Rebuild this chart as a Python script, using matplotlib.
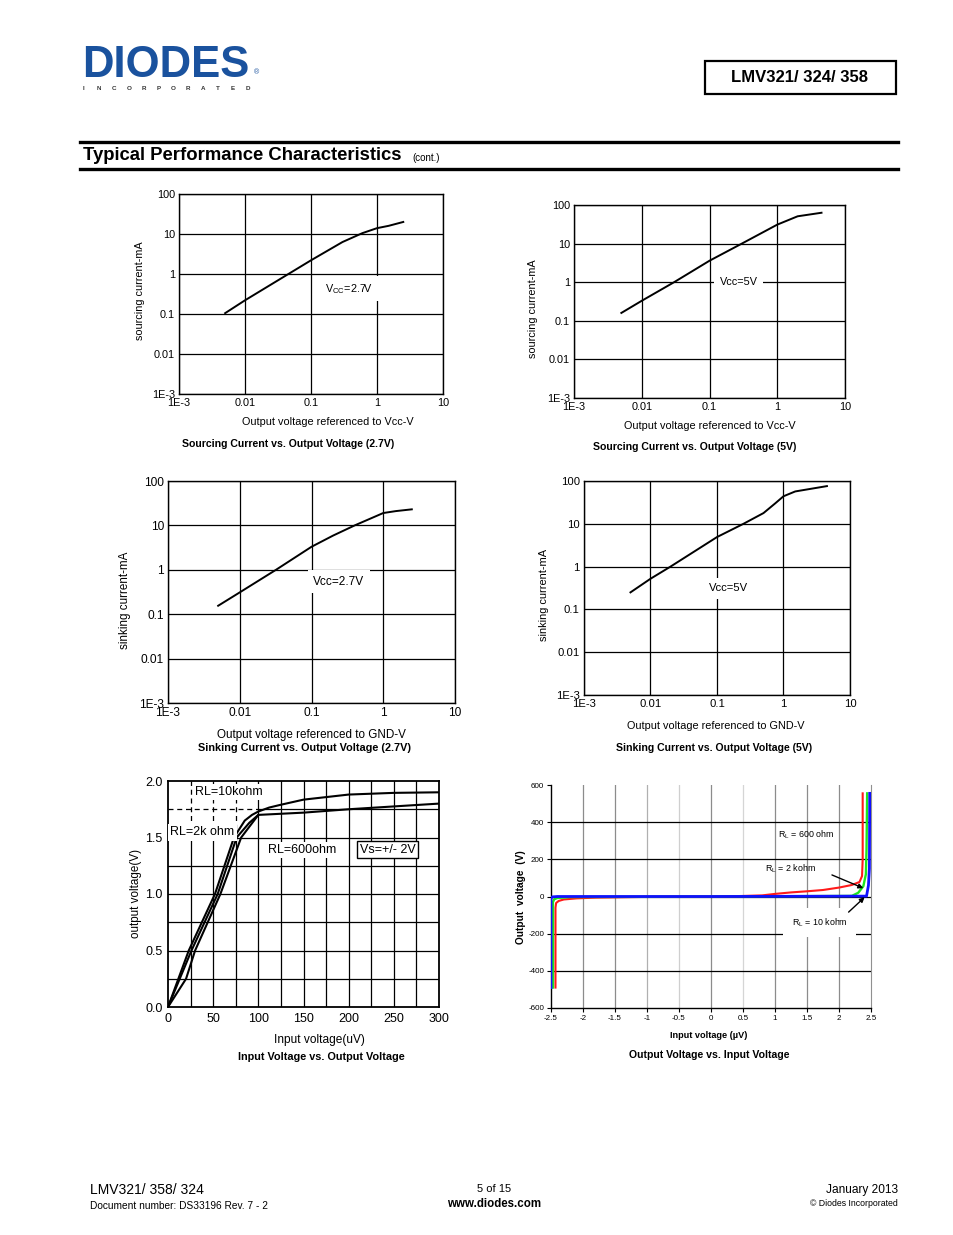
import numpy as np
import matplotlib
matplotlib.use("Agg")
import matplotlib.pyplot as plt
from matplotlib.patches import Rectangle

plt.rcParams['font.family'] = ['Liberation Sans', 'DejaVu Sans']
plt.rcParams['mathtext.fontset'] = 'custom'
plt.rcParams['mathtext.rm'] = 'Liberation Sans'
plt.rcParams['mathtext.it'] = 'Liberation Sans:italic'
plt.rcParams['mathtext.bf'] = 'Liberation Sans:bold'
plt.rcParams['axes.unicode_minus'] = False

W, H = 954, 1235

# ---- data ----
log_xticks = [1e-3, 1e-2, 1e-1, 1, 10]
log_xlabels = ['1E-3', '0.01', '0.1', '1', '10']
log_yticks = [1e-3, 1e-2, 1e-1, 1, 10, 100]
log_ylabels = ['1E-3', '0.01', '0.1', '1', '10', '100']

src27_v = [0.005, 0.01, 0.03, 0.1, 0.3, 0.6, 1.0, 1.5, 2.5]
src27_i = [0.105, 0.22, 0.66, 2.2, 6.3, 10.5, 14, 16, 20]

src5_v = [0.005, 0.01, 0.03, 0.1, 0.3, 1.0, 2.0, 4.5]
src5_i = [0.16, 0.33, 1.0, 3.6, 10, 31, 51, 63]

snk27_v = [0.005, 0.01, 0.032, 0.1, 0.2, 0.4, 1.0, 1.5, 2.5]
snk27_i = [0.155, 0.31, 1.0, 3.3, 5.9, 10, 19, 21, 23]

snk5_v = [0.005, 0.01, 0.02, 0.1, 0.25, 0.5, 0.75, 1.0, 1.5, 4.5]
snk5_i = [0.25, 0.52, 1.0, 4.9, 10, 17.8, 30, 44, 57, 76]

vin_10k = [0, 23, 52, 73, 85, 93, 100, 112, 125, 150, 200, 250, 300]
vout_10k = [0, 0.5, 1.0, 1.5, 1.65, 1.70, 1.73, 1.765, 1.79, 1.835, 1.88, 1.895, 1.9]
vin_2k = [0, 26, 55, 76, 90, 100, 150, 200, 250, 300]
vout_2k = [0, 0.5, 1.0, 1.5, 1.63, 1.7, 1.72, 1.75, 1.775, 1.8]
vin_600 = [0, 20, 30, 58, 81, 100]
vout_600 = [0, 0.25, 0.5, 1.0, 1.5, 1.7]

tr_x_600 = [-2.43, -2.43, -2.42, -2.38, -2.3, -2.1, -1.8, -1.0, 0, 0.4, 0.8,
            1.0, 1.25, 1.5, 1.75, 2.0, 2.2, 2.32, 2.36, 2.37, 2.37]
tr_y_600 = [-490, -60, -35, -24, -16, -10, -6, -2, 0, 2, 6,
            14, 22, 28, 35, 48, 62, 78, 110, 200, 555]
tr_x_2k = [-2.47, -2.47, -2.45, -2.4, -2.2, 0, 2.2, 2.3, 2.38, 2.42, 2.43, 2.44]
tr_y_2k = [-490, -30, -15, -8, -3, 0, 3, 20, 55, 120, 250, 555]
tr_x_10k = [-2.5, -2.5, -2.48, -2.4, 0, 2.43, 2.46, 2.475, 2.48]
tr_y_10k = [-490, -10, -2, 0, 0, 2, 60, 150, 555]

fig = plt.figure(figsize=(W / 100, H / 100), dpi=100)

page = fig.add_axes([0, 0, 1, 1])
page.set_xlim(0, W)
page.set_ylim(H, 0)
page.axis('off')


def px_axes(l, t, r, b):
    return fig.add_axes([l / W, 1 - b / H, (r - l) / W, (b - t) / H])


def ptext(x, y, s, **kw):
    kw.setdefault('ha', 'center')
    kw.setdefault('va', 'center')
    page.text(x, y, s, **kw)


# ---- header ----
ptext(82, 77, 'DIODES', ha='left', va='baseline', fontsize=31.5,
      fontweight='heavy', color='#1a529e')
for i, ch in enumerate('INCORPORATED'):
    ptext(84 + i * 14.9, 88, ch, fontsize=4.5, fontweight='bold', color='#333333')
ptext(254, 73, '®', ha='left', fontsize=5, color='#1a529e')
page.add_patch(Rectangle((705, 61), 191, 33, fill=False, lw=1.6, ec='black'))
ptext(800, 78, 'LMV321/ 324/ 358', fontsize=12, fontweight='bold')
page.plot([80, 898], [142, 142], color='black', lw=2.4)
page.plot([80, 898], [169, 169], color='black', lw=2.4)
ptext(83, 156, 'Typical Performance Characteristics', ha='left',
      fontsize=13.3, fontweight='bold')
ptext(412, 158, '(cont.)', ha='left', fontsize=7)

# ---- footer ----
ptext(90, 1190, 'LMV321/ 358/ 324', ha='left', fontsize=10)
ptext(90, 1206, 'Document number: DS33196 Rev. 7 - 2', ha='left', fontsize=7.3)
ptext(494, 1189, '5 of 15', fontsize=8)
ptext(494, 1204, 'www.diodes.com', fontsize=8.3, fontweight='bold')
ptext(898, 1190, 'January 2013', ha='right', fontsize=8.6)
ptext(898, 1204, '© Diodes Incorporated', ha='right', fontsize=6.3)


def log_panel(box, xv, yv, fs, note, note_xy, note_ha):
    ax = px_axes(*box)
    ax.set_xscale('log')
    ax.set_yscale('log')
    ax.set_xlim(1e-3, 10)
    ax.set_ylim(1e-3, 100)
    ax.set_xticks(log_xticks, log_xlabels)
    ax.set_yticks(log_yticks, log_ylabels)
    ax.minorticks_off()
    ax.tick_params(length=0, labelsize=fs, pad=3)
    ax.grid(True, color='black', lw=0.9)
    for s in ax.spines.values():
        s.set_linewidth(1.0)
    ax.plot(xv, yv, color='black', lw=1.4)
    ax.text(note_xy[0], note_xy[1], note, fontsize=fs, ha=note_ha, va='center',
            zorder=4, bbox=dict(facecolor='white', edgecolor='none', pad=4))
    return ax


log_panel((179, 194, 443, 394), src27_v, src27_i, 7.8,
          'V$_\\mathrm{CC}$=2.7V', (0.163, 0.43), 'left')
ptext(140, 291, 'sourcing current-mA', rotation=90, fontsize=7.8)
ptext(328, 422, 'Output voltage referenced to Vcc-V', fontsize=7.8)
ptext(288, 444, 'Sourcing Current vs. Output Voltage (2.7V)', fontsize=7.6,
      fontweight='bold')

log_panel((574, 205, 845, 398), src5_v, src5_i, 7.8,
          'Vcc=5V', (0.27, 1.0), 'center')
ptext(533, 309, 'sourcing current-mA', rotation=90, fontsize=7.8)
ptext(710, 426, 'Output voltage referenced to Vcc-V', fontsize=7.8)
ptext(695, 447, 'Sourcing Current vs. Output Voltage (5V)', fontsize=7.6,
      fontweight='bold')

log_panel((168, 481, 455, 703), snk27_v, snk27_i, 8.6,
          'Vcc=2.7V', (0.106, 0.54), 'left')
ptext(125, 600, 'sinking current-mA', rotation=90, fontsize=8.4)
ptext(311, 735, 'Output voltage referenced to GND-V', fontsize=8.4)
ptext(305, 748, 'Sinking Current vs. Output Voltage (2.7V)', fontsize=7.8,
      fontweight='bold')

log_panel((584, 481, 850, 695), snk5_v, snk5_i, 8.1,
          'Vcc=5V', (0.15, 0.31), 'center')
ptext(544, 595, 'sinking current-mA', rotation=90, fontsize=7.9)
ptext(716, 726, 'Output voltage referenced to GND-V', fontsize=7.8)
ptext(714, 748, 'Sinking Current vs. Output Voltage (5V)', fontsize=7.6,
      fontweight='bold')

# ---- input vs output voltage (linear) ----
ax5 = px_axes(168, 781, 439, 1007)
ax5.set_xlim(0, 300)
ax5.set_ylim(0, 2.0)
ax5.set_xticks(np.arange(0, 301, 50))
ax5.set_yticks([0, 0.5, 1.0, 1.5, 2.0], ['0.0', '0.5', '1.0', '1.5', '2.0'])
ax5.tick_params(length=0, labelsize=9, pad=4)
for s in ax5.spines.values():
    s.set_linewidth(1.3)
for gx in np.arange(25, 300, 25):
    if gx < 100:
        ax5.axvline(gx, ymin=0, ymax=0.75, color='black', lw=0.9, zorder=1)
        ax5.axvline(gx, ymin=0.75, ymax=1, color='black', lw=0.9,
                    ls=(0, (4, 3)), zorder=1)
    else:
        ax5.axvline(gx, color='black', lw=0.9, zorder=1)
for gy in np.arange(0.25, 2.0, 0.25):
    if gy == 1.75:
        ax5.axhline(gy, xmin=0, xmax=1 / 3, color='black', lw=0.9,
                    ls=(0, (4, 3)), zorder=1)
        ax5.axhline(gy, xmin=1 / 3, xmax=1, color='black', lw=0.9, zorder=1)
    else:
        ax5.axhline(gy, color='black', lw=0.9, zorder=1)
ax5.plot(vin_10k, vout_10k, color='black', lw=1.5, zorder=3)
ax5.plot(vin_2k, vout_2k, color='black', lw=1.5, zorder=3)
ax5.plot(vin_600, vout_600, color='black', lw=1.5, zorder=3)
wb = dict(facecolor='white', edgecolor='none', pad=1.5)
ax5.text(30, 1.9, 'RL=10kohm', fontsize=9, ha='left', va='center', bbox=wb,
         zorder=4)
ax5.text(2.5, 1.545, 'RL=2k ohm', fontsize=9, ha='left', va='center', bbox=wb,
         zorder=4)
ax5.text(111, 1.39, 'RL=600ohm', fontsize=9, ha='left', va='center', bbox=wb,
         zorder=4)
ax5.text(212, 1.39, 'Vs=+/- 2V', fontsize=9, ha='left', va='center', zorder=4,
         bbox=dict(facecolor='white', edgecolor='black', lw=1.0,
                   boxstyle='square,pad=0.2'))
ptext(136, 893, 'output voltage(V)', rotation=90, fontsize=8.4)
ptext(319, 1040, 'Input voltage(uV)', fontsize=8.6)
ptext(321, 1057, 'Input Voltage vs. Output Voltage', fontsize=7.8,
      fontweight='bold')

# ---- output vs input voltage (transfer) ----
ax6 = px_axes(551, 785, 871, 1008)
ax6.set_xlim(-2.5, 2.5)
ax6.set_ylim(-600, 600)
ax6.set_xticks(np.arange(-2.5, 2.51, 0.5),
               ['-2.5', '-2', '-1.5', '-1', '-0.5', '0', '0.5', '1', '1.5',
                '2', '2.5'])
ax6.set_yticks(np.arange(-600, 601, 200))
ax6.tick_params(length=3, width=0.8, labelsize=5.8, pad=2, direction='out')
ax6.spines['top'].set_visible(False)
ax6.spines['right'].set_color('#909090')
for side in ('left', 'bottom'):
    ax6.spines[side].set_linewidth(1.0)
light = {-0.5: '#cfcfcf', 0.5: '#d5d5d5', -1.0: '#b0b0b0'}
for gx in np.arange(-2.0, 2.01, 0.5):
    ax6.axvline(gx, color=light.get(round(gx, 1), '#8c8c8c'), lw=0.9, zorder=1)
for gy in (-400, -200, 0, 200, 400):
    ax6.axhline(gy, color='black', lw=0.9, zorder=1)
ax6.plot(tr_x_600, tr_y_600, color='#ff1a1a', lw=1.5, zorder=3)
ax6.plot(tr_x_2k, tr_y_2k, color='#1ee61e', lw=1.7, zorder=3)
ax6.plot(tr_x_10k, tr_y_10k, color='#1010ff', lw=2.0, zorder=4)
ax6.text(1.05, 332, 'R$_\\mathrm{L}$ = 600 ohm', fontsize=6.4, ha='left',
         va='center')
ax6.text(0.85, 149, 'R$_\\mathrm{L}$ = 2 kohm', fontsize=6.4, ha='left',
         va='center')
ax6.text(1.26, -141, 'R$_\\mathrm{L}$ = 10 kohm', fontsize=6.4, ha='left',
         va='center', zorder=5,
         bbox=dict(facecolor='white', edgecolor='none', pad=6))
ax6.annotate('', xy=(2.38, 45), xytext=(1.89, 116), zorder=6,
             arrowprops=dict(arrowstyle='-|>', color='black', lw=1.0,
                             mutation_scale=7, shrinkA=0, shrinkB=0))
ax6.annotate('', xy=(2.40, -4), xytext=(2.15, -84), zorder=6,
             arrowprops=dict(arrowstyle='-|>', color='black', lw=1.0,
                             mutation_scale=7, shrinkA=0, shrinkB=0))
ptext(521, 897, 'Output  voltage  (V)', rotation=90, fontsize=7.3,
      fontweight='bold')
ptext(709, 1035, 'Input voltage (µV)', fontsize=6.6, fontweight='bold')
ptext(709, 1055, 'Output Voltage vs. Input Voltage', fontsize=7.6,
      fontweight='bold')

fig.savefig('out.png', dpi=100)
